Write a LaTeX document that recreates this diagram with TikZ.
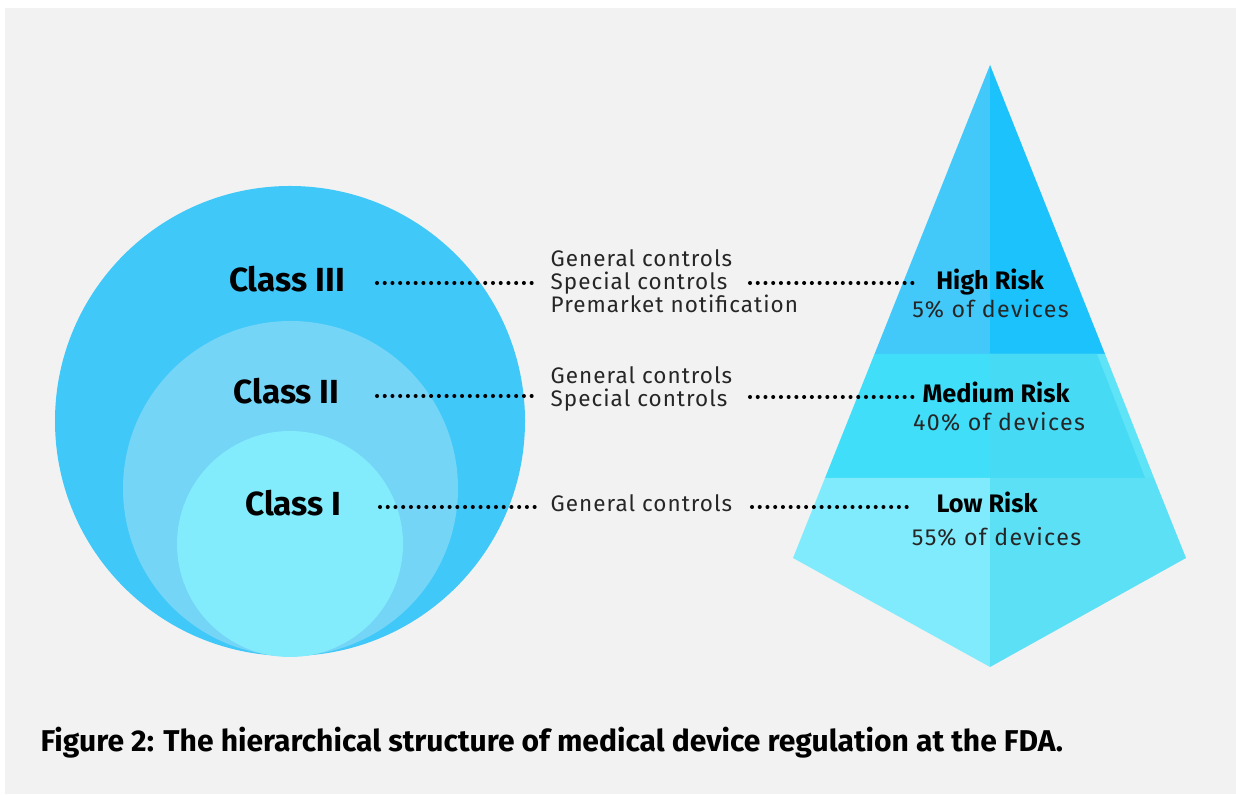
\documentclass[tikz,border=0pt]{standalone}
\usepackage{fontspec}
\setmainfont{Fira Sans}
\newfontfamily\thinfont{Fira Sans}[LetterSpace=6]
\newfontfamily\ctlfont{Fira Sans}[LetterSpace=4.5]
\usepackage{tikz}
\usetikzlibrary{graphs}
\usepackage{xcolor}

\definecolor{bggray}{HTML}{F2F2F2}
\definecolor{outerblue}{HTML}{40C8F9}
\definecolor{midblue}{HTML}{74D5F7}
\definecolor{innerblue}{HTML}{82EBFC}
\definecolor{highL}{HTML}{42C9FA}
\definecolor{highR}{HTML}{1CC2FC}
\definecolor{medL}{HTML}{40DEF8}
\definecolor{medR}{HTML}{47DAF4}
\definecolor{medS}{HTML}{5FE3F6}
\definecolor{lowL}{HTML}{80EBFC}
\definecolor{lowR}{HTML}{5BE0F5}

\tikzset{
    classlabel/.style={anchor=base, inner sep=0pt, font=\fontsize{9.5}{11}\selectfont\bfseries},
    ctltext/.style={anchor=base west, inner sep=0pt, text=black!85, font=\ctlfont\fontsize{6.4}{7}\selectfont},
    risktitle/.style={anchor=base, inner sep=0pt, font=\fontsize{7.2}{8}\selectfont\bfseries},
    riskpct/.style={anchor=base, inner sep=0pt, text=black!85, font=\thinfont\fontsize{6.6}{7}\selectfont},
    dotline/.style={line width=1.15pt, dash pattern=on 0pt off 2.2pt, line cap=round},
}

\begin{document}
\begin{tikzpicture}
            \useasboundingbox (0.000, 0.000) rectangle (12.360, 7.940);
            \fill[white] (0.000, 0.000) rectangle (12.360, 7.940);
            \fill[bggray] (0.050, 0.000) rectangle (12.360, 7.860);

            % nested classes
            \fill[outerblue] (2.900, 3.730) circle (2.350);
            \fill[midblue] (2.905, 3.055) circle (1.675);
            \fill[innerblue] (2.900, 2.500) circle (1.130);

            % pyramid faces
            \fill[highL] (9.900, 7.290) -- (8.745, 4.400) -- (9.900, 4.400) -- cycle;
            \fill[highR] (9.900, 7.290) -- (9.900, 4.400) -- (11.050, 4.400) -- cycle;
            \fill[medL] (8.745, 4.400) -- (9.900, 4.400) -- (9.900, 3.160) -- (8.250, 3.160) -- cycle;
            \fill[medS] (9.900, 4.400) -- (11.050, 4.400) -- (11.540, 3.160) -- (9.900, 3.160) -- cycle;
            \fill[medR] (9.900, 4.400) -- (10.970, 4.400) -- (11.450, 3.160) -- (9.900, 3.160) -- cycle;
            \fill[lowL] (8.250, 3.160) -- (9.900, 3.160) -- (9.900, 1.270) -- (7.930, 2.360) -- cycle;
            \fill[lowR] (9.900, 3.160) -- (11.540, 3.160) -- (11.860, 2.360) -- (9.900, 1.270) -- cycle;

            \node[classlabel] (c3) at (2.870, 5.020) {Class III};
            \node[classlabel] (c2) at (2.865, 3.900) {Class II};
            \node[classlabel] (c1) at (2.935, 2.780) {Class I};

            \node[ctltext] (g3) at (5.500, 5.270) {General controls};
            \node[ctltext] (s3) at (5.500, 5.040) {Special controls};
            \node[ctltext] (p3) at (5.500, 4.810) {Premarket notification};
            \node[ctltext] (g2) at (5.500, 4.100) {General controls};
            \node[ctltext] (s2) at (5.500, 3.870) {Special controls};
            \node[ctltext] (g1) at (5.500, 2.820) {General controls};

            \node[risktitle] (high) at (9.900, 5.040) {High Risk};
            \node[riskpct] (high_p) at (9.905, 4.760) {5\% of devices};
            \node[risktitle] (med) at (9.960, 3.910) {Medium Risk};
            \node[riskpct] (med_p) at (9.990, 3.630) {40\% of devices};
            \node[risktitle] (low) at (9.870, 2.810) {Low Risk};
            \node[riskpct] (low_p) at (9.965, 2.480) {55\% of devices};

            % dotted leader ends
            \coordinate (c3_a) at (3.770, 5.110);
            \coordinate (c3_b) at (5.380, 5.110);
            \coordinate (c2_a) at (3.770, 3.980);
            \coordinate (c2_b) at (5.380, 3.980);
            \coordinate (c1_a) at (3.800, 2.870);
            \coordinate (c1_b) at (5.410, 2.870);
            \coordinate (r3_a) at (7.500, 5.110);
            \coordinate (r3_b) at (9.130, 5.110);
            \coordinate (r2_a) at (7.500, 3.970);
            \coordinate (r2_b) at (9.130, 3.970);
            \coordinate (r1_a) at (7.520, 2.870);
            \coordinate (r1_b) at (9.130, 2.870);

            \graph {(c3_a) --[dotline] (c3_b)};
            \graph {(c2_a) --[dotline] (c2_b)};
            \graph {(c1_a) --[dotline] (c1_b)};
            \graph {(r3_a) --[dotline] (r3_b)};
            \graph {(r2_a) --[dotline] (r2_b)};
            \graph {(r1_a) --[dotline] (r1_b)};

            \node[anchor=base west, inner sep=0pt, font=\fontsize{8.55}{10}\selectfont\bfseries] (caption) at (0.400, 0.420) {Figure 2: The hierarchical structure of medical device regulation at the FDA.};
        \end{tikzpicture}
\end{document}
